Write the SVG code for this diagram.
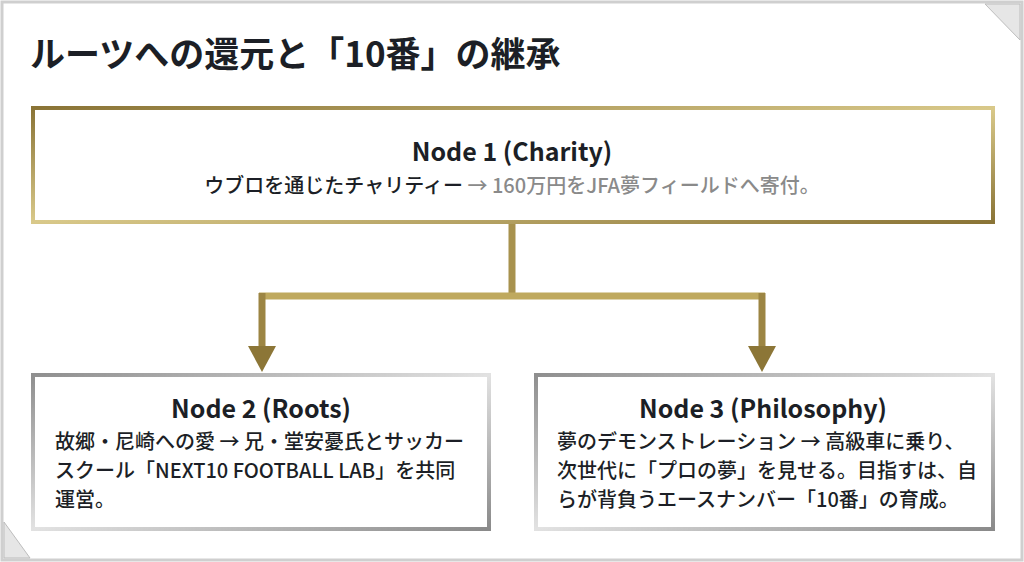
<svg xmlns="http://www.w3.org/2000/svg" width="1024" height="562" viewBox="0 0 1024 562">
<defs>
<linearGradient id="gold" x1="0" y1="0" x2="1" y2="1"><stop offset="0" stop-color="#8a7436"/><stop offset="0.5" stop-color="#d9c98a"/><stop offset="1" stop-color="#8a7436"/></linearGradient>
<linearGradient id="silver" x1="0" y1="0" x2="1" y2="1"><stop offset="0" stop-color="#8f8f8f"/><stop offset="0.5" stop-color="#e2e2e2"/><stop offset="1" stop-color="#8a8a8a"/></linearGradient>
</defs>
<style>
text{font-family:"Noto Sans CJK JP","Noto Sans",sans-serif;fill:#1c1f26}
.t{font-size:35px;font-weight:700}
.h{font-size:25px;font-weight:700;text-anchor:middle}
.b{font-size:20px;font-weight:500}
.g{fill:#8a8a8a}
</style>
<rect x="2" y="2" width="1020" height="558" fill="#fff" stroke="#cfcfcf" stroke-width="3"/>
<path d="M985,4 L1020,4 L1020,40 Z" fill="#e6e6e6" stroke="#bdbdbd"/>
<path d="M4,522 L4,558 L30,558 Z" fill="#e6e6e6" stroke="#bdbdbd"/>
<text class="t" x="30" y="67">ルーツへの還元と「10番」の継承</text>
<g id="connectors" fill="none" stroke-width="7">
<path d="M512,224 V296" stroke="#a8924e"/>
<path d="M259,296 H765" stroke="#bfa95e"/>
<path d="M262,293 V348" stroke="#9c8543"/>
<path d="M762,293 V348" stroke="#9c8543"/>
<path d="M248,346 L276,346 L262,372 Z" fill="#8c7637" stroke="none"/>
<path d="M748,346 L776,346 L762,372 Z" fill="#8c7637" stroke="none"/>
</g>
<g id="node1">
<rect x="33" y="108" width="960" height="114" fill="#fff" stroke="url(#gold)" stroke-width="4"/>
<text class="h" x="512" y="161">Node 1 (Charity)</text>
<text class="b" x="512" y="193" text-anchor="middle">ウブロを通じたチャリティー<tspan class="g"> → 160万円をJFA夢フィールドへ寄付。</tspan></text>
</g>
<g id="node2">
<rect x="33" y="375" width="456" height="154" fill="#fff" stroke="url(#silver)" stroke-width="4"/>
<text class="h" x="261" y="418">Node 2 (Roots)</text>
<text class="b" x="55" y="449">故郷・尼崎への愛 → 兄・堂安憂氏とサッカー</text>
<text class="b" x="55" y="478">スクール「NEXT10 FOOTBALL LAB」を共同</text>
<text class="b" x="55" y="507">運営。</text>
</g>
<g id="node3">
<rect x="536" y="375" width="457" height="154" fill="#fff" stroke="url(#silver)" stroke-width="4"/>
<text class="h" x="763" y="418">Node 3 (Philosophy)</text>
<text class="b" x="557" y="449">夢のデモンストレーション → 高級車に乗り、</text>
<text class="b" x="557" y="478">次世代に「プロの夢」を見せる。目指すは、自</text>
<text class="b" x="557" y="507">らが背負うエースナンバー「10番」の育成。</text>
</g>
</svg>
